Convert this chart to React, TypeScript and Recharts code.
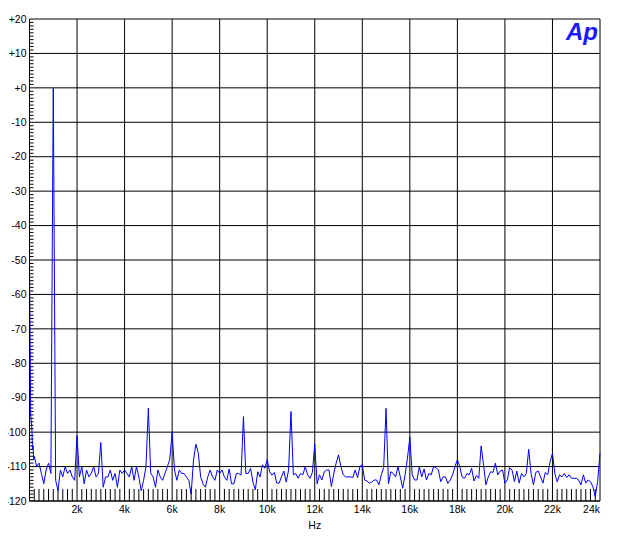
import React from 'react';
import { LineChart, Line, XAxis, YAxis, CartesianGrid, ReferenceLine } from 'recharts';

// FFT spectrum, dBV vs Hz
const lowBandHz = [0, 25, 50, 75, 100, 125, 150, 175];
const lowBandDb = [-52, -75, -95, -97, -99, -105, -104, -108];

// levels from 200 Hz upward, one bin every 100 Hz
const binStartHz = 200;
const binStepHz = 100;
const levelsDb = [
  -107, -110, -109, -112, -115, -111, -109, -112,
  0, -114, -117, -111, -113, -110, -112, -111, -113, -114,
  -101, -113, -110, -115, -111, -113, -112, -110, -113, -112,
  -103, -116, -113, -113, -111, -114, -112, -116, -111, -112,
  -111, -112, -113, -110, -114, -110, -113, -117, -114, -110,
  -93, -112, -113, -116, -111, -113, -114, -112, -110, -108,
  -100, -111, -114, -111, -112, -112, -113, -114, -118, -108,
  -103.5, -106, -113, -115, -116, -113, -111, -113, -114, -111,
  -112, -111, -113, -114, -110.7, -115, -115, -112, -112, -112.5,
  -95.5, -112, -112, -110.5, -114.5, -116.8, -111.5, -113, -109.5, -110.5,
  -108, -111.5, -112.5, -111.7, -114.8, -114.8, -113, -111.3, -114.5, -111,
  -94, -112.4, -112, -113.4, -112, -112.4, -110, -112.4, -113.4, -111.7,
  -103.5, -115, -112.4, -113.9, -111.5, -111, -111, -115.8, -112, -109,
  -106.6, -110, -112.4, -113, -113, -113, -113.2, -111, -113.2, -110,
  -109.5, -113.9, -114.2, -114.8, -114.5, -113.9, -113.9, -115.3, -112.4, -110.3,
  -93.1, -115, -111.5, -112, -113, -110, -113, -116.3, -112.4, -107.6,
  -101.5, -112.4, -113.9, -113.9, -110, -113, -110.7, -113.9, -112, -112.4,
  -110, -110.3, -111, -114.4, -113, -113, -114.9, -113.9, -112.4, -110,
  -108, -110, -113, -113.4, -112, -112.4, -110.5, -114.2, -112.6, -113.4,
  -104, -109.5, -115.3, -113, -111.5, -111.7, -109, -112.4, -111.3, -111,
  -114.8, -113.9, -110.3, -111, -114.4, -111.3, -114.8, -112, -113, -112,
  -105, -112, -115.3, -111.7, -111.3, -113, -114.8, -111.7, -112.4, -108.6,
  -106.1, -112, -114.4, -112.4, -113, -112, -113.2, -112.4, -113.4, -113.4,
  -113.4, -113.9, -115.3, -112.4, -114.8, -113.9, -114.4, -115.8, -118.7, -114.4,
  -106.1,
];

const xTicksHz = [0, 2000, 4000, 6000, 8000, 10000, 12000, 14000, 16000, 18000, 20000, 22000, 24000];
const yTicksDb = [20, 10, 0, -10, -20, -30, -40, -50, -60, -70, -80, -90, -100, -110, -120];

const data = [
  ...lowBandHz.map((hz, i) => ({ hz, db: lowBandDb[i] })),
  ...levelsDb.map((db, i) => ({ hz: binStartHz + i * binStepHz, db })),
];

// minor tick marks drawn inside the plot frame
const yMinor: number[] = [];
for (let v = -119; v < 20; v++) if (v % 10 !== 0) yMinor.push(v);
const xMinor: number[] = [];
for (let f = 200; f < 24000; f += 200) if (f % 2000 !== 0) xMinor.push(f);

const FONT = '"Liberation Sans", Arial, sans-serif';
const FS = 10.5;

const fmtDb = (v: number) => (v > 0 ? `+${v}` : v === 0 ? '+0' : `${v}`);

const XTick = (props: any) => {
  const { x, y, payload } = props;
  const v = payload.value;
  if (v === 0) return null;
  return (
    <text x={x} y={y} dy="0.71em" textAnchor={v === 24000 ? 'end' : 'middle'} fontSize={FS} fontFamily={FONT} fill="#000">
      {`${v / 1000}k`}
    </text>
  );
};

const App: React.FC = () => {
  // cancel the body margin so chart coords match page coords
  return (
    <div style={{ position: 'relative', width: 626, height: 545, margin: '-8px 0 0 -8px' }}>
      <LineChart width={626} height={545} data={data} margin={{ top: 19, right: 26, bottom: 14, left: 8 }}>
        <CartesianGrid stroke="#000" strokeWidth={1} />
        <XAxis
          type="number"
          dataKey="hz"
          domain={[0, 24000]}
          ticks={xTicksHz}
          interval={0}
          height={30}
          tickSize={0}
          tickMargin={5}
          tickLine={false}
          axisLine={{ stroke: '#000' }}
          tick={<XTick />}
          label={{ value: 'Hz', position: 'insideBottom', offset: 2, fontSize: FS, fontFamily: FONT, fill: '#000' }}
        />
        <YAxis
          type="number"
          domain={[-120, 20]}
          ticks={yTicksDb}
          interval={0}
          width={21.5}
          tickSize={0}
          tickMargin={3}
          tickLine={false}
          axisLine={{ stroke: '#000' }}
          tickFormatter={fmtDb}
          tick={{ fontSize: FS, fontFamily: FONT, fill: '#000' }}
        />
        {yMinor.map((v) => (
          <ReferenceLine key={`ym${v}`} segment={[{ x: 0, y: v }, { x: 170, y: v }]} stroke="#000" strokeWidth={1} />
        ))}
        {xMinor.map((f) => (
          <ReferenceLine key={`xm${f}`} segment={[{ x: f, y: -120 }, { x: f, y: -116.5 }]} stroke="#000" strokeWidth={1} />
        ))}
        <Line type="linear" dataKey="db" stroke="#0000ff" strokeWidth={1} dot={false} isAnimationActive={false} />
      </LineChart>
      <svg width={626} height={545} style={{ position: 'absolute', left: 0, top: 0, pointerEvents: 'none' }}>
        <text x={598} y={40} textAnchor="end" fontSize={24} fontStyle="italic" fontWeight="bold" fontFamily={FONT} fill="#1a1aff">
          Ap
        </text>
      </svg>
    </div>
  );
};

export default App;
